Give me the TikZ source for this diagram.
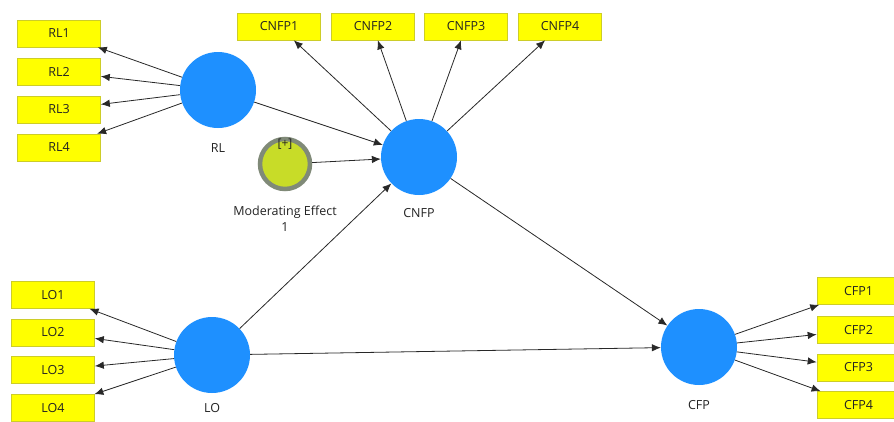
\documentclass[tikz,border=0pt]{standalone}
\usepackage{fontspec}
\setmainfont{Open Sans}
\usetikzlibrary{arrows.meta}
\definecolor{latentblue}{RGB}{30,144,255}
\definecolor{itemyellow}{RGB}{255,255,0}
\definecolor{itemedge}{RGB}{205,205,40}
\definecolor{modfill}{RGB}{200,220,40}
\definecolor{modring}{RGB}{128,138,120}
\definecolor{linkgray}{RGB}{40,40,40}
\definecolor{labelgray}{RGB}{35,35,35}
\tikzset{
  latent/.style={circle, fill=latentblue, draw=none, minimum size=76pt, inner sep=0pt},
  indicator/.style={rectangle, fill=itemyellow, draw=itemedge, line width=0.6pt,
    minimum width=83pt, minimum height=27pt, inner sep=0pt,
    font=\fontsize{12.5}{14}\selectfont, text=labelgray},
  moderator/.style={circle, fill=modfill, draw=modring, line width=4.5pt,
    minimum size=50pt, inner sep=0pt},
  caption/.style={font=\fontsize{12.5}{14}\selectfont, text=labelgray, align=center},
  link/.style={draw=linkgray, line width=0.8pt, -{Latex[length=9pt,width=7.5pt]}}
}
\begin{document}
\begin{tikzpicture}[x=1pt, y=-1pt]
  \useasboundingbox (0,0) rectangle (894,421);

  % latent variables
  \node[latent] (rl)   at (218,90)  {};
  \node[latent] (cnfp) at (419,157) {};
  \node[latent] (lo)   at (212,355) {};
  \node[latent] (cfp)  at (699,347) {};
  \node[moderator] (mod) at (285,164) {};

  % captions
  \node[caption] (rllab)   at (218,148) {RL};
  \node[caption] (cnfplab) at (419,213) {CNFP};
  \node[caption] (lolab)   at (212,408) {LO};
  \node[caption] (cfplab)  at (699,405) {CFP};
  \node[caption, font=\fontsize{12}{13}\selectfont] (modplus) at (285,144) {[+]};
  \node[caption, font=\fontsize{12.5}{16}\selectfont] (modlab) at (285,219) {Moderating Effect\\1};

  % indicators of RL
  \node[indicator] (rl1) at (59,33.5)  {RL1};
  \node[indicator] (rl2) at (59,71.5)  {RL2};
  \node[indicator] (rl3) at (59,109.5) {RL3};
  \node[indicator] (rl4) at (59,147.5) {RL4};

  % indicators of CNFP
  \node[indicator] (cnfp1) at (279,26.5) {CNFP1};
  \node[indicator] (cnfp2) at (373,26.5) {CNFP2};
  \node[indicator] (cnfp3) at (466,26.5) {CNFP3};
  \node[indicator] (cnfp4) at (560,26.5) {CNFP4};

  % indicators of LO
  \node[indicator] (lo1) at (53,295)   {LO1};
  \node[indicator] (lo2) at (53,332.5) {LO2};
  \node[indicator] (lo3) at (53,370)   {LO3};
  \node[indicator] (lo4) at (53,408)   {LO4};

  % indicators of CFP
  \node[indicator] (cfp1) at (858.5,291)   {CFP1};
  \node[indicator] (cfp2) at (858.5,330)   {CFP2};
  \node[indicator] (cfp3) at (858.5,367.5) {CFP3};
  \node[indicator] (cfp4) at (858.5,405)   {CFP4};

  % outer (measurement) links
  \foreach \i in {1,...,4} {
    \draw[link] (rl) -- (rl\i);
    \draw[link] (cnfp) -- (cnfp\i);
    \draw[link] (lo) -- (lo\i);
    \draw[link] (cfp) -- (cfp\i);
  }

  % inner (structural) links
  \draw[link] (rl) -- (cnfp);
  \draw[link] (mod) -- (cnfp);
  \draw[link] (lo) -- (cnfp);
  \draw[link] (cnfp) -- (cfp);
  \draw[link] (lo) -- (cfp);
\end{tikzpicture}
\end{document}
